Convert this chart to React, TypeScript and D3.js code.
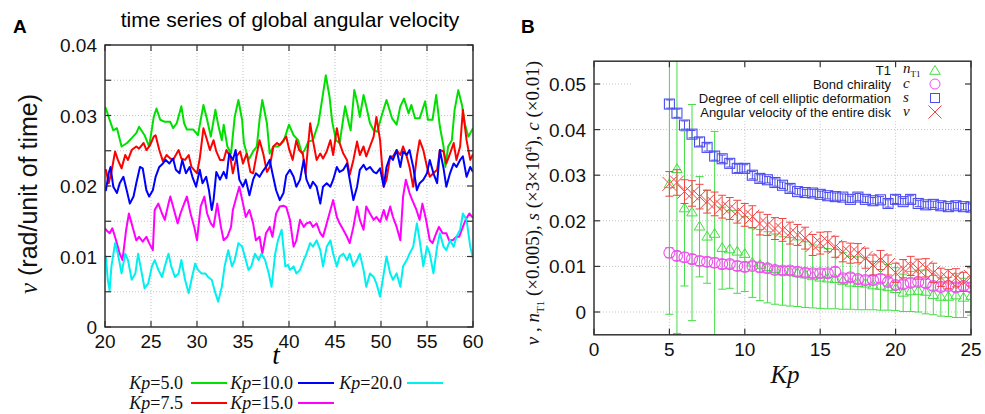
import React from 'react';
import * as d3 from 'd3';

// ---------- Panel A data: time series of global angular velocity ----------
const seriesKp5: [number, number][] = [[20,0.0312],[20.1,0.0310],[20.5,0.0294],[20.9,0.0279],[21.3,0.0282],[21.8,0.0256],[22.4,0.0261],[22.9,0.0268],[23.4,0.0275],[23.7,0.0284],[24.3,0.0272],[24.8,0.0256],[25.3,0.0298],[25.6,0.0310],[26.0,0.0294],[26.5,0.0291],[27.1,0.0291],[27.4,0.0282],[27.8,0.0289],[28.3,0.0313],[28.6,0.0289],[28.9,0.0280],[29.6,0.0280],[30.1,0.0272],[30.7,0.0315],[31.1,0.0294],[31.5,0.0270],[32.0,0.0308],[32.3,0.0287],[32.7,0.0265],[32.9,0.0287],[33.3,0.0256],[33.7,0.0246],[34.1,0.0298],[34.5,0.0322],[34.9,0.0294],[35.1,0.0261],[35.6,0.0237],[36.1,0.0249],[36.5,0.0256],[36.8,0.0294],[37.1,0.0322],[37.6,0.0289],[37.9,0.0246],[38.3,0.0256],[38.8,0.0256],[39.4,0.0263],[40.0,0.0287],[40.5,0.0272],[41.0,0.0265],[41.4,0.0246],[41.7,0.0251],[42.1,0.0263],[42.6,0.0265],[43.2,0.0289],[43.7,0.0331],[44.0,0.0357],[44.4,0.0327],[44.7,0.0291],[45.1,0.0265],[45.5,0.0261],[46.1,0.0313],[46.5,0.0289],[46.7,0.0279],[47.1,0.0336],[47.4,0.0320],[47.7,0.0298],[48.1,0.0329],[48.4,0.0313],[48.8,0.0289],[49.2,0.0279],[49.6,0.0277],[50.1,0.0301],[50.6,0.0322],[51.2,0.0296],[51.7,0.0287],[52.1,0.0313],[52.5,0.0324],[53.0,0.0303],[53.3,0.0315],[53.7,0.0296],[54.2,0.0296],[54.8,0.0320],[55.1,0.0294],[55.6,0.0294],[56.0,0.0329],[56.4,0.0284],[56.8,0.0256],[57.0,0.0227],[57.3,0.0256],[57.7,0.0265],[58.0,0.0308],[58.4,0.0336],[58.8,0.0315],[59.1,0.0289],[59.5,0.0270],[60,0.0282]];
const seriesKp75: [number, number][] = [[20,0.0222],[20.1,0.0223],[20.4,0.0204],[20.7,0.0220],[21.1,0.0249],[21.4,0.0237],[21.8,0.0225],[22.2,0.0244],[22.5,0.0237],[22.9,0.0251],[23.4,0.0256],[23.7,0.0253],[24.2,0.0261],[24.5,0.0251],[24.9,0.0258],[25.3,0.0270],[25.5,0.0272],[25.9,0.0251],[26.3,0.0235],[26.7,0.0244],[27.1,0.0239],[27.4,0.0237],[28.0,0.0251],[28.3,0.0239],[28.7,0.0237],[29.1,0.0244],[29.4,0.0227],[30.0,0.0218],[30.3,0.0239],[30.7,0.0282],[31.1,0.0265],[31.4,0.0251],[31.8,0.0265],[32.1,0.0249],[32.5,0.0237],[32.9,0.0237],[33.2,0.0251],[33.6,0.0242],[33.9,0.0218],[34.3,0.0242],[34.7,0.0249],[35.0,0.0232],[35.4,0.0246],[35.8,0.0220],[36.1,0.0218],[36.5,0.0246],[36.8,0.0265],[37.2,0.0246],[37.6,0.0220],[37.9,0.0227],[38.3,0.0256],[38.7,0.0261],[39.0,0.0258],[39.4,0.0265],[39.7,0.0270],[40.0,0.0253],[40.4,0.0237],[40.8,0.0265],[41.1,0.0251],[41.5,0.0246],[41.8,0.0218],[42.3,0.0289],[42.6,0.0265],[43.0,0.0237],[43.4,0.0246],[43.7,0.0239],[44.1,0.0249],[44.5,0.0265],[44.8,0.0244],[45.2,0.0282],[45.5,0.0261],[45.9,0.0246],[46.3,0.0237],[46.6,0.0216],[47.0,0.0237],[47.4,0.0263],[47.7,0.0244],[48.1,0.0256],[48.4,0.0242],[48.8,0.0256],[49.2,0.0270],[49.5,0.0298],[49.9,0.0265],[50.3,0.0199],[50.6,0.0209],[51.0,0.0242],[51.3,0.0242],[51.7,0.0251],[52.1,0.0244],[52.4,0.0256],[52.8,0.0242],[53.1,0.0227],[53.5,0.0199],[53.9,0.0242],[54.2,0.0265],[54.6,0.0251],[55.0,0.0227],[55.3,0.0213],[55.7,0.0218],[56.1,0.0223],[56.4,0.0251],[56.8,0.0249],[57.1,0.0232],[57.5,0.0246],[57.9,0.0261],[58.2,0.0237],[58.6,0.0256],[58.9,0.0308],[59.3,0.0265],[59.7,0.0237],[60,0.0245]];
const seriesKp10: [number, number][] = [[20,0.0200],[20.1,0.0194],[20.4,0.0218],[20.6,0.0227],[20.9,0.0199],[21.3,0.0190],[21.6,0.0204],[22.0,0.0213],[22.4,0.0192],[22.7,0.0175],[23.1,0.0185],[23.4,0.0204],[23.8,0.0227],[24.1,0.0225],[24.5,0.0194],[24.8,0.0185],[25.2,0.0194],[25.5,0.0213],[25.9,0.0227],[26.3,0.0232],[26.6,0.0237],[27.0,0.0232],[27.4,0.0239],[27.7,0.0223],[28.1,0.0218],[28.4,0.0237],[28.8,0.0218],[29.2,0.0227],[29.5,0.0213],[29.9,0.0199],[30.3,0.0223],[30.6,0.0204],[31.0,0.0213],[31.3,0.0194],[31.6,0.0166],[31.8,0.0180],[32.1,0.0220],[32.5,0.0209],[32.9,0.0220],[33.2,0.0211],[33.5,0.0246],[33.9,0.0237],[34.2,0.0251],[34.6,0.0209],[35.0,0.0199],[35.3,0.0209],[35.7,0.0187],[36.1,0.0209],[36.4,0.0218],[36.8,0.0213],[37.1,0.0220],[37.5,0.0227],[37.9,0.0237],[38.2,0.0218],[38.6,0.0194],[39.0,0.0180],[39.4,0.0190],[39.7,0.0215],[40.1,0.0223],[40.5,0.0213],[40.8,0.0199],[41.2,0.0209],[41.6,0.0237],[41.9,0.0209],[42.3,0.0197],[42.6,0.0206],[43.0,0.0199],[43.4,0.0175],[43.7,0.0199],[44.1,0.0204],[44.5,0.0199],[44.8,0.0209],[45.2,0.0227],[45.5,0.0220],[45.9,0.0223],[46.3,0.0232],[46.6,0.0209],[47.0,0.0180],[47.4,0.0199],[47.7,0.0223],[48.1,0.0230],[48.4,0.0223],[48.8,0.0227],[49.2,0.0220],[49.5,0.0218],[49.9,0.0225],[50.3,0.0199],[50.6,0.0227],[51.0,0.0242],[51.3,0.0237],[51.7,0.0251],[52.1,0.0227],[52.4,0.0249],[52.8,0.0244],[53.1,0.0251],[53.5,0.0227],[53.9,0.0194],[54.2,0.0204],[54.6,0.0209],[55.0,0.0218],[55.3,0.0237],[55.7,0.0218],[56.1,0.0204],[56.4,0.0251],[56.8,0.0225],[57.1,0.0199],[57.5,0.0218],[57.9,0.0232],[58.2,0.0227],[58.6,0.0237],[58.9,0.0242],[59.3,0.0213],[59.7,0.0227],[60,0.0220]];
const seriesKp15: [number, number][] = [[20,0.0140],[20.1,0.0138],[20.5,0.0133],[20.8,0.0140],[21.2,0.0123],[21.6,0.0104],[21.9,0.0095],[22.3,0.0138],[22.6,0.0161],[23.0,0.0142],[23.4,0.0123],[23.7,0.0128],[24.1,0.0121],[24.5,0.0128],[24.8,0.0119],[25.2,0.0109],[25.4,0.0166],[25.8,0.0175],[26.2,0.0161],[26.5,0.0152],[26.9,0.0175],[27.1,0.0185],[27.5,0.0166],[27.9,0.0147],[28.2,0.0161],[28.6,0.0175],[28.9,0.0185],[29.3,0.0161],[29.7,0.0142],[30.0,0.0123],[30.4,0.0171],[30.8,0.0185],[31.1,0.0161],[31.5,0.0147],[31.8,0.0142],[32.2,0.0175],[32.6,0.0142],[32.9,0.0123],[33.3,0.0128],[33.7,0.0142],[33.9,0.0166],[34.3,0.0185],[34.6,0.0199],[35.0,0.0175],[35.3,0.0156],[35.7,0.0166],[36.1,0.0147],[36.4,0.0123],[36.8,0.0128],[37.1,0.0104],[37.5,0.0133],[37.9,0.0142],[38.2,0.0128],[38.6,0.0161],[39.0,0.0171],[39.4,0.0172],[39.7,0.0170],[40.1,0.0152],[40.5,0.0114],[40.8,0.0123],[41.2,0.0152],[41.6,0.0142],[41.9,0.0147],[42.3,0.0149],[42.6,0.0142],[43.0,0.0147],[43.4,0.0133],[43.7,0.0128],[44.1,0.0147],[44.5,0.0166],[44.8,0.0180],[45.2,0.0156],[45.5,0.0147],[45.9,0.0138],[46.3,0.0128],[46.6,0.0119],[47.0,0.0142],[47.4,0.0171],[47.7,0.0152],[48.1,0.0138],[48.4,0.0171],[48.8,0.0161],[49.2,0.0152],[49.5,0.0156],[49.9,0.0149],[50.3,0.0166],[50.6,0.0152],[51.0,0.0171],[51.3,0.0156],[51.7,0.0142],[52.1,0.0123],[52.4,0.0185],[52.7,0.0209],[53.1,0.0190],[53.4,0.0180],[53.8,0.0168],[54.2,0.0152],[54.5,0.0175],[54.9,0.0152],[55.3,0.0123],[55.6,0.0119],[56.0,0.0133],[56.3,0.0142],[56.7,0.0133],[57.1,0.0133],[57.4,0.0123],[57.8,0.0123],[58.2,0.0128],[58.5,0.0128],[58.9,0.0142],[59.2,0.0152],[59.6,0.0161],[60,0.0155]];
const seriesKp20: [number, number][] = [[20,0.0100],[20.1,0.0100],[20.3,0.0067],[20.5,0.0052],[20.7,0.0086],[21.1,0.0119],[21.4,0.0104],[21.8,0.0076],[22.2,0.0104],[22.5,0.0095],[22.9,0.0067],[23.3,0.0076],[23.6,0.0104],[24.0,0.0076],[24.3,0.0055],[24.7,0.0062],[25.1,0.0086],[25.4,0.0095],[25.8,0.0081],[26.2,0.0071],[26.5,0.0086],[26.9,0.0104],[27.2,0.0086],[27.6,0.0071],[28.0,0.0076],[28.3,0.0095],[28.7,0.0067],[29.1,0.0048],[29.4,0.0067],[29.8,0.0090],[30.1,0.0081],[30.5,0.0076],[30.9,0.0076],[31.2,0.0071],[31.6,0.0067],[32.0,0.0048],[32.3,0.0036],[32.7,0.0057],[33.0,0.0086],[33.4,0.0109],[33.8,0.0086],[34.1,0.0095],[34.5,0.0119],[34.9,0.0114],[35.2,0.0100],[35.6,0.0081],[35.9,0.0086],[36.3,0.0104],[36.7,0.0095],[37.0,0.0104],[37.4,0.0095],[37.8,0.0076],[38.1,0.0057],[38.5,0.0104],[38.8,0.0123],[39.2,0.0138],[39.6,0.0086],[39.9,0.0088],[40.1,0.0081],[40.5,0.0086],[40.8,0.0076],[41.2,0.0081],[41.6,0.0095],[41.9,0.0104],[42.3,0.0119],[42.6,0.0114],[43.0,0.0123],[43.4,0.0109],[43.7,0.0086],[44.1,0.0114],[44.5,0.0123],[44.8,0.0104],[45.2,0.0086],[45.5,0.0100],[45.9,0.0104],[46.3,0.0095],[46.6,0.0104],[47.0,0.0086],[47.4,0.0095],[47.7,0.0104],[48.1,0.0081],[48.4,0.0057],[48.8,0.0076],[49.2,0.0071],[49.5,0.0062],[49.9,0.0043],[50.3,0.0076],[50.6,0.0100],[51.0,0.0076],[51.3,0.0067],[51.7,0.0076],[52.1,0.0057],[52.4,0.0086],[52.8,0.0095],[53.1,0.0104],[53.5,0.0114],[53.9,0.0147],[54.2,0.0123],[54.6,0.0086],[55.0,0.0114],[55.3,0.0104],[55.7,0.0076],[56.1,0.0114],[56.4,0.0133],[56.8,0.0114],[57.1,0.0109],[57.5,0.0123],[57.9,0.0114],[58.2,0.0128],[58.6,0.0138],[58.9,0.0161],[59.3,0.0152],[59.7,0.0114],[60,0.0098]];

const seriesLabels = ['5.0', '7.5', '10.0', '15.0', '20.0'];
const seriesColors = ['#00e000', '#ff0000', '#0000ff', '#ff00ff', '#00f0f0'];
const xTicksA = [20, 25, 30, 35, 40, 45, 50, 55, 60];
const yTicksA = [0, 0.01, 0.02, 0.03, 0.04];
const yGridA = [0.005, 0.01, 0.015, 0.02, 0.025, 0.03, 0.035];

// ---------- Panel B data ----------
const kpValues = [5,5.5,6,6.5,7,7.5,8,8.5,9,9.5,10,10.5,11,11.5,12,12.5,13,13.5,14,14.5,15,15.5,16,16.5,17,17.5,18,18.5,19,19.5,20,20.5,21,21.5,22,22.5,23,23.5,24,24.5,25];
const sValues = [0.0456,0.0436,0.0410,0.0390,0.0373,0.0361,0.0342,0.0336,0.0326,0.0315,0.0315,0.0300,0.0293,0.0290,0.0284,0.0278,0.0271,0.0264,0.0262,0.0261,0.0258,0.0255,0.0253,0.0252,0.0247,0.0252,0.0247,0.0244,0.0246,0.0238,0.0247,0.0242,0.0247,0.0238,0.0235,0.0236,0.0233,0.0231,0.0233,0.0231,0.0230];
const sErrors = [0.0009,0.0009,0.0009,0.0008,0.0009,0.0008,0.0009,0.0008,0.0008,0.0009,0.0008,0.0008,0.0008,0.0007,0.0008,0.0007,0.0008,0.0007,0.0007,0.0008,0.0007,0.0007,0.0008,0.0007,0.0007,0.0008,0.0007,0.0007,0.0007,0.0008,0.0009,0.0007,0.0008,0.0007,0.0007,0.0007,0.0007,0.0007,0.0007,0.0007,0.0007];
const vValues = [0.0281,0.0284,0.0264,0.0260,0.0253,0.0242,0.0237,0.0231,0.0227,0.0220,0.0213,0.0209,0.0194,0.0191,0.0183,0.0180,0.0173,0.0169,0.0162,0.0147,0.0151,0.0154,0.0143,0.0132,0.0129,0.0129,0.0118,0.0103,0.0114,0.0103,0.0086,0.0095,0.0101,0.0094,0.0097,0.0086,0.0076,0.0072,0.0075,0.0066,0.0077];
const vErrors = [0.0027,0.0028,0.0026,0.0028,0.0027,0.0025,0.0026,0.0025,0.0024,0.0025,0.0025,0.0024,0.0025,0.0023,0.0024,0.0025,0.0024,0.0023,0.0024,0.0023,0.0024,0.0022,0.0023,0.0022,0.0022,0.0021,0.0022,0.0022,0.0021,0.0022,0.0021,0.0020,0.0021,0.0022,0.0020,0.0021,0.0020,0.0021,0.0020,0.0021,0.0020];
const cValues = [0.0130,0.0123,0.0120,0.0116,0.0112,0.0110,0.0108,0.0105,0.0105,0.0101,0.0099,0.0101,0.0098,0.0096,0.0092,0.0091,0.0091,0.0088,0.0086,0.0085,0.0085,0.0085,0.0088,0.0074,0.0076,0.0072,0.0070,0.0070,0.0073,0.0066,0.0059,0.0061,0.0064,0.0066,0.0063,0.0057,0.0055,0.0057,0.0054,0.0057,0.0054];
const cErrors = [0.0011,0.0010,0.0010,0.0010,0.0010,0.0010,0.0010,0.0010,0.0009,0.0010,0.0010,0.0009,0.0010,0.0009,0.0009,0.0009,0.0009,0.0009,0.0009,0.0009,0.0009,0.0009,0.0010,0.0009,0.0009,0.0009,0.0009,0.0009,0.0009,0.0009,0.0009,0.0009,0.0009,0.0009,0.0009,0.0009,0.0009,0.0009,0.0009,0.0009,0.0009];
const nValues = [0.0280,0.0313,0.0227,0.0218,0.0187,0.0165,0.0171,0.0140,0.0137,0.0132,0.0127,0.0108,0.0103,0.0098,0.0094,0.0090,0.0088,0.0085,0.0082,0.0078,0.0075,0.0073,0.0072,0.0068,0.0064,0.0063,0.0062,0.0058,0.0057,0.0054,0.0050,0.0042,0.0045,0.0046,0.0044,0.0037,0.0033,0.0033,0.0036,0.0031,0.0035];
const nErrors = [0.0285,0.0360,0.0170,0.0237,0.0110,0.0102,0.0225,0.0090,0.0085,0.0091,0.0082,0.0076,0.0078,0.0078,0.0077,0.0075,0.0075,0.0073,0.0072,0.0069,0.0067,0.0066,0.0065,0.0062,0.0058,0.0058,0.0057,0.0053,0.0053,0.0050,0.0047,0.0041,0.0044,0.0046,0.0048,0.0043,0.0042,0.0043,0.0048,0.0043,0.0042];
const xTicksB = [0, 5, 10, 15, 20, 25];
const yTicksB = [0, 0.01, 0.02, 0.03, 0.04, 0.05];
const legendBTexts = ['T1', 'Bond chirality', 'Degree of cell elliptic deformation', 'Angular velocity of the entire disk'];

const SANS = '"Liberation Sans", Arial, Helvetica, sans-serif';
const SERIF = '"Liberation Serif", "Times New Roman", serif';
const GREEN_B = '#44dd44';
const MAG_B = '#f050f0';
const BLUE_B = '#4c4cf0';
const RED_B = '#f04444';

export default function App() {
  // Panel A scales
  const xA = d3.scaleLinear().domain([20, 60]).range([105, 473]);
  const yA = d3.scaleLinear().domain([0, 0.04]).range([327, 45]);
  // Panel B scales
  const xB = d3.scaleLinear().domain([0, 25]).range([594, 971]);
  const yB = d3.scaleLinear().domain([-0.005, 0.055]).range([334.8, 61.2]);

  const lineA = d3.line<[number, number]>().x(d => xA(d[0])).y(d => yA(d[1]));
  const allSeries = [seriesKp5, seriesKp75, seriesKp10, seriesKp15, seriesKp20];

  const [ax0, ax1] = xA.range();
  const [ay0, ay1] = yA.range(); // bottom, top
  const [bx0, bx1] = xB.range();
  const [by0, by1] = yB.range();
  const tick = 6;

  const fmt = (v: number) => (v === 0 ? '0' : d3.format('.2f')(v));

  const tri = (cx: number, cy: number, r = 5.5) =>
    `M${cx},${cy - r}L${cx + r * 0.95},${cy + r * 0.6}L${cx - r * 0.95},${cy + r * 0.6}Z`;

  const errBar = (x: number, v: number, e: number, color: string, key: string, cap = 4) => {
    const yt = yB(v + e), yb = yB(v - e);
    return (
      <g key={key} stroke={color} strokeWidth={1}>
        <line x1={x} x2={x} y1={yt} y2={yb} />
        <line x1={x - cap} x2={x + cap} y1={yt} y2={yt} />
        <line x1={x - cap} x2={x + cap} y1={yb} y2={yb} />
      </g>
    );
  };

  // legend A layout (gnuplot style: label then sample line)
  const legendA = [
    { idx: 0, textX: 183, lineX: 191, y: 383 },
    { idx: 2, textX: 293, lineX: 298, y: 383 },
    { idx: 4, textX: 402, lineX: 407, y: 383 },
    { idx: 1, textX: 183, lineX: 191, y: 403 },
    { idx: 3, textX: 293, lineX: 298, y: 403 },
  ];

  const legendRowsY = [70, 84, 98, 112];
  const legMarkX = 935;

  return (
    <svg width={985} height={414} style={{ position: 'absolute', left: 0, top: 0, background: '#fff' }}>
      <defs>
        <clipPath id="clipA"><rect x={ax0} y={ay1} width={ax1 - ax0} height={ay0 - ay1} /></clipPath>
        <clipPath id="clipB"><rect x={bx0} y={by1} width={bx1 - bx0} height={by0 - by1} /></clipPath>
      </defs>
      <rect x={0} y={0} width={985} height={414} fill="#fff" />

      {/* ================= Panel A ================= */}
      <text x={13} y={33} fontFamily={SANS} fontWeight="bold" fontSize={19}>A</text>
      <text x={290} y={27} textAnchor="middle" fontFamily={SANS} fontSize={21}>time series of global angular velocity</text>

      {/* grid */}
      <g stroke="#b4b4b4" strokeWidth={0.8} strokeDasharray="1,2">
        {xTicksA.slice(1, -1).map(t => <line key={'gx' + t} x1={xA(t)} x2={xA(t)} y1={ay0} y2={ay1} />)}
        {yGridA.map(v => <line key={'gy' + v} x1={ax0} x2={ax1} y1={yA(v)} y2={yA(v)} />)}
      </g>

      {/* series */}
      <g clipPath="url(#clipA)" fill="none" strokeWidth={2} strokeLinejoin="round">
        {allSeries.map((s, i) => <path key={'s' + i} d={lineA(s) || ''} stroke={seriesColors[i]} />)}
      </g>

      {/* axes box & ticks */}
      <rect x={ax0} y={ay1} width={ax1 - ax0} height={ay0 - ay1} fill="none" stroke="#333" strokeWidth={1.5} />
      <g stroke="#333" strokeWidth={1.2}>
        {xTicksA.map(t => (
          <g key={'xt' + t}>
            <line x1={xA(t)} x2={xA(t)} y1={ay0} y2={ay0 - tick} />
            <line x1={xA(t)} x2={xA(t)} y1={ay1} y2={ay1 + tick} />
          </g>
        ))}
        {[0, ...yGridA, 0.04].map(v => (
          <g key={'yt' + v}>
            <line x1={ax0} x2={ax0 + tick} y1={yA(v)} y2={yA(v)} />
            <line x1={ax1} x2={ax1 - tick} y1={yA(v)} y2={yA(v)} />
          </g>
        ))}
      </g>
      <g fontFamily={SANS} fontSize={19} fill="#111">
        {xTicksA.map(t => <text key={'xl' + t} x={xA(t)} y={348} textAnchor="middle">{t}</text>)}
        {yTicksA.map(v => <text key={'yl' + v} x={97} y={yA(v) + 7} textAnchor="end">{fmt(v)}</text>)}
      </g>
      <text x={276} y={364} textAnchor="middle" fontFamily={SERIF} fontStyle="italic" fontSize={27}>t</text>
      <text transform={`translate(37,194) rotate(-90)`} textAnchor="middle" fontSize={25} fill="#111">
        <tspan fontFamily={SERIF} fontStyle="italic">ν</tspan>
        <tspan fontFamily={SANS}> (rad/unit of time)</tspan>
      </text>

      {/* legend A */}
      {legendA.map(l => (
        <g key={'la' + l.idx}>
          <text x={l.textX} y={l.y + 6} textAnchor="end" fontFamily={SERIF} fontSize={18} fill="#111">
            <tspan fontStyle="italic">Kp</tspan>={seriesLabels[l.idx]}
          </text>
          <line x1={l.lineX} x2={l.lineX + 36} y1={l.y} y2={l.y} stroke={seriesColors[l.idx]} strokeWidth={2} />
        </g>
      ))}

      {/* ================= Panel B ================= */}
      <text x={521} y={33} fontFamily={SANS} fontWeight="bold" fontSize={19}>B</text>

      <g stroke="#b4b4b4" strokeWidth={0.8} strokeDasharray="1,2">
        {xTicksB.slice(1, -1).map(t => <line key={'bgx' + t} x1={xB(t)} x2={xB(t)} y1={by0} y2={by1} />)}
        {yTicksB.map(v => <line key={'bgy' + v} x1={bx0} x2={bx1} y1={yB(v)} y2={yB(v)} />)}
      </g>
      {/* opaque legend box */}
      <rect x={633} y={by1 + 1} width={bx1 - 634} height={59} fill="#fff" />
      <g fontFamily={SANS} fontSize={13} fill="#111" textAnchor="end">
        {legendBTexts.map((t, i) => <text key={'lbt' + i} x={891} y={legendRowsY[i] + 4.5}>{t}</text>)}
      </g>
      <g fontFamily={SERIF} fontStyle="italic" fontSize={15} fill="#111">
        <text x={903} y={legendRowsY[0] + 3}>n<tspan fontStyle="normal" fontSize={9} dy={4}>T1</tspan></text>
        <text x={903} y={legendRowsY[1] + 4}>c</text>
        <text x={903} y={legendRowsY[2] + 4}>s</text>
        <text x={903} y={legendRowsY[3] + 4}>ν</text>
      </g>
      <g fill="none" strokeWidth={1}>
        <path d={tri(legMarkX, legendRowsY[0] + 1)} stroke={GREEN_B} />
        <circle cx={legMarkX} cy={legendRowsY[1]} r={5} stroke={MAG_B} />
        <rect x={legMarkX - 4.5} y={legendRowsY[2] - 4.5} width={9} height={9} stroke={BLUE_B} />
        <g stroke={RED_B}>
          <line x1={legMarkX - 6.5} x2={legMarkX + 6.5} y1={legendRowsY[3] - 6.5} y2={legendRowsY[3] + 6.5} />
          <line x1={legMarkX - 6.5} x2={legMarkX + 6.5} y1={legendRowsY[3] + 6.5} y2={legendRowsY[3] - 6.5} />
        </g>
      </g>

      {/* data B */}
      <g clipPath="url(#clipB)">
        {/* n_T1 */}
        {kpValues.map((k, i) => errBar(xB(k), nValues[i], nErrors[i], GREEN_B, 'ne' + i))}
        {kpValues.map((k, i) => <path key={'nm' + i} d={tri(xB(k), yB(nValues[i]))} fill="none" stroke={GREEN_B} strokeWidth={1} />)}
        {/* c */}
        {kpValues.map((k, i) => errBar(xB(k), cValues[i], cErrors[i], MAG_B, 'ce' + i))}
        {kpValues.map((k, i) => <circle key={'cm' + i} cx={xB(k)} cy={yB(cValues[i])} r={5.5} fill="none" stroke={MAG_B} strokeWidth={1.1} />)}
        {/* s */}
        {kpValues.map((k, i) => errBar(xB(k), sValues[i], sErrors[i], BLUE_B, 'se' + i, 3.5))}
        {kpValues.map((k, i) => <rect key={'sm' + i} x={xB(k) - 5} y={yB(sValues[i]) - 5} width={10} height={10} fill="none" stroke={BLUE_B} strokeWidth={1.1} />)}
        {/* v */}
        {kpValues.map((k, i) => errBar(xB(k), vValues[i], vErrors[i], RED_B, 've' + i))}
        {kpValues.map((k, i) => {
          const x = xB(k), y = yB(vValues[i]), r = 7;
          return (
            <g key={'vm' + i} stroke={RED_B} strokeWidth={1}>
              <line x1={x - r} x2={x + r} y1={y - r} y2={y + r} />
              <line x1={x - r} x2={x + r} y1={y + r} y2={y - r} />
            </g>
          );
        })}
      </g>

      {/* axes B */}
      <rect x={bx0} y={by1} width={bx1 - bx0} height={by0 - by1} fill="none" stroke="#333" strokeWidth={1.5} />
      <g stroke="#333" strokeWidth={1.2}>
        {xTicksB.map(t => (
          <g key={'bxt' + t}>
            <line x1={xB(t)} x2={xB(t)} y1={by0} y2={by0 - tick} />
            <line x1={xB(t)} x2={xB(t)} y1={by1} y2={by1 + tick} />
          </g>
        ))}
        {yTicksB.map(v => (
          <g key={'byt' + v}>
            <line x1={bx0} x2={bx0 + tick} y1={yB(v)} y2={yB(v)} />
            <line x1={bx1} x2={bx1 - tick} y1={yB(v)} y2={yB(v)} />
          </g>
        ))}
      </g>
      <g fontFamily={SANS} fontSize={19} fill="#111">
        {xTicksB.map(t => <text key={'bxl' + t} x={xB(t)} y={356} textAnchor="middle">{t}</text>)}
        {yTicksB.map(v => <text key={'byl' + v} x={586} y={yB(v) + 7} textAnchor="end">{fmt(v)}</text>)}
      </g>
      <text x={785} y={383} textAnchor="middle" fontFamily={SERIF} fontStyle="italic" fontSize={25} fill="#111">Kp</text>
      <text transform={`translate(539,203) rotate(-90)`} textAnchor="middle" fontFamily={SERIF} fontSize={19} fill="#111">
        <tspan fontStyle="italic">ν</tspan>
        <tspan> , </tspan>
        <tspan fontStyle="italic">n</tspan>
        <tspan fontSize={11} dy={5}>T1</tspan>
        <tspan dy={-5}> (×0.005), </tspan>
        <tspan fontStyle="italic">s</tspan>
        <tspan> (×3×10</tspan>
        <tspan fontSize={11} dy={-7}>4</tspan>
        <tspan dy={7}>), </tspan>
        <tspan fontStyle="italic">c</tspan>
        <tspan> (×0.01)</tspan>
      </text>
    </svg>
  );
}
